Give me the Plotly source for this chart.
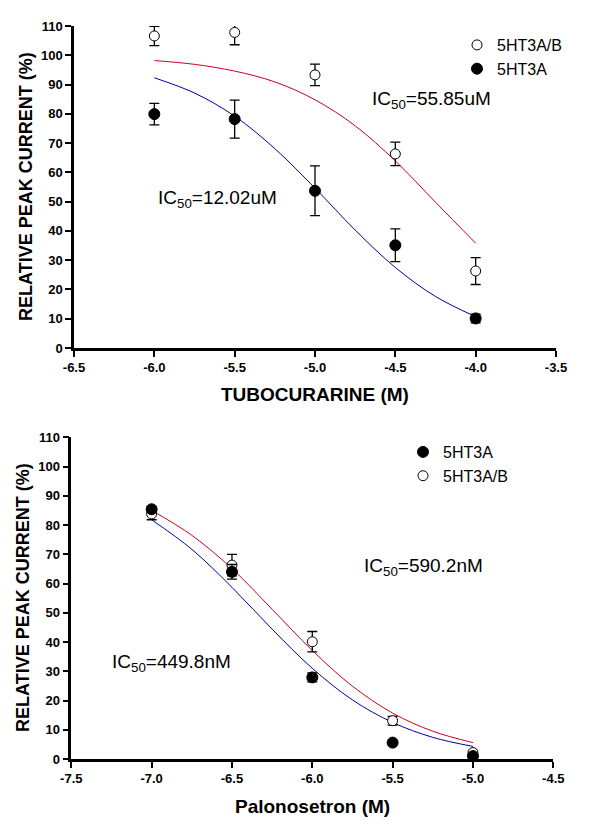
import plotly.graph_objects as go

# ---------------- data ----------------
# Top panel: tubocurarine
tubo_x = [-6.0, -5.5, -5.0, -4.5, -4.0]
tubo_ab = [106.6, 107.8, 93.3, 66.3, 26.3]      # 5HT3A/B (open)
tubo_ab_err = [3.3, 4.2, 3.7, 4.0, 4.6]
tubo_a = [79.9, 78.2, 53.7, 35.1, 10.1]         # 5HT3A (filled)
tubo_a_err = [3.7, 6.5, 8.5, 5.6, 1.5]

tubo_fit_x = [-6.0, -5.75, -5.5, -5.25, -5.0, -4.75, -4.5, -4.25, -4.0]
tubo_fit_ab = [98.2, 96.9, 94.6, 90.9, 84.8, 75.9, 63.9, 49.8, 35.8]   # red
tubo_fit_a = [92.3, 87.1, 79.2, 68.1, 54.6, 40.3, 27.5, 17.6, 10.7]    # blue

# Bottom panel: palonosetron
palo_x = [-7.0, -6.5, -6.0, -5.5, -5.0]
palo_a = [85.4, 64.0, 27.9, 5.6, 1.0]           # 5HT3A (filled)
palo_a_err = [1.0, 2.5, 1.5, 0.0, 0.0]
palo_ab = [83.8, 66.3, 40.1, 13.1, 2.2]         # 5HT3A/B (open)
palo_ab_err = [2.0, 3.7, 3.5, 1.5, 0.5]

palo_fit_x = [-7.0, -6.75, -6.5, -6.25, -6.0, -5.75, -5.5, -5.25, -5.0]
palo_fit_ab = [85.0, 76.5, 65.1, 51.2, 37.1, 24.9, 15.7, 9.5, 5.6]     # red
palo_fit_a = [81.8, 71.7, 58.7, 44.4, 31.0, 20.2, 12.5, 7.4, 4.3]      # blue

top_ticks_x = [-6.5, -6.0, -5.5, -5.0, -4.5, -4.0, -3.5]
bot_ticks_x = [-7.5, -7.0, -6.5, -6.0, -5.5, -5.0, -4.5]
ticks_y = list(range(0, 111, 10))

# ---------------- styles ----------------
FONT = "Arial, Liberation Sans, sans-serif"
RED = "#cc0022"
BLUE = "#0000aa"
OFF = 8                      # page body margin
W, H = 603 - 2 * OFF, 825 - 2 * OFF

fig = go.Figure()

# top curves
fig.add_trace(go.Scatter(x=tubo_fit_x, y=tubo_fit_ab, mode="lines", line=dict(color=RED, width=1, shape="spline"),
                         showlegend=False, xaxis="x", yaxis="y", hoverinfo="skip"))
fig.add_trace(go.Scatter(x=tubo_fit_x, y=tubo_fit_a, mode="lines", line=dict(color=BLUE, width=1, shape="spline"),
                         showlegend=False, xaxis="x", yaxis="y", hoverinfo="skip"))
# top points
fig.add_trace(go.Scatter(x=tubo_x, y=tubo_ab, mode="markers", name="5HT3A/B",
                         marker=dict(symbol="circle", size=10, color="white", line=dict(color="black", width=1)),
                         error_y=dict(type="data", array=tubo_ab_err, color="black", thickness=1.3, width=5),
                         xaxis="x", yaxis="y", legend="legend", cliponaxis=False))
fig.add_trace(go.Scatter(x=tubo_x, y=tubo_a, mode="markers", name="5HT3A",
                         marker=dict(symbol="circle", size=11, color="black", line=dict(color="black", width=1)),
                         error_y=dict(type="data", array=tubo_a_err, color="black", thickness=1.3, width=5),
                         xaxis="x", yaxis="y", legend="legend", cliponaxis=False))

# bottom curves
fig.add_trace(go.Scatter(x=palo_fit_x, y=palo_fit_ab, mode="lines", line=dict(color=RED, width=1, shape="spline"),
                         showlegend=False, xaxis="x2", yaxis="y2", hoverinfo="skip"))
fig.add_trace(go.Scatter(x=palo_fit_x, y=palo_fit_a, mode="lines", line=dict(color=BLUE, width=1, shape="spline"),
                         showlegend=False, xaxis="x2", yaxis="y2", hoverinfo="skip"))
# bottom points
fig.add_trace(go.Scatter(x=palo_x, y=palo_ab, mode="markers", name="5HT3A/B",
                         marker=dict(symbol="circle", size=10, color="white", line=dict(color="black", width=1)),
                         error_y=dict(type="data", array=palo_ab_err, color="black", thickness=1.3, width=5),
                         xaxis="x2", yaxis="y2", legend="legend2", legendrank=2, cliponaxis=False))
fig.add_trace(go.Scatter(x=palo_x, y=palo_a, mode="markers", name="5HT3A",
                         marker=dict(symbol="circle", size=11, color="black", line=dict(color="black", width=1)),
                         error_y=dict(type="data", array=palo_a_err, color="black", thickness=1.3, width=5),
                         xaxis="x2", yaxis="y2", legend="legend2", legendrank=1, cliponaxis=False))

def px_x(p):
    return (p - OFF) / W

def px_y(p):
    return 1 - (p - OFF) / H

axis_common = dict(showgrid=False, zeroline=False, showline=True, linecolor="black", linewidth=2.5,
                   ticks="outside", ticklen=6, tickwidth=2, tickcolor="black", automargin=False,
                   tickfont=dict(family=FONT, size=13, color="black", weight="bold"))

fig.update_layout(
    width=W, height=H,
    margin=dict(l=0, r=0, t=0, b=0, autoexpand=False),
    paper_bgcolor="white", plot_bgcolor="white",
    font=dict(family=FONT, color="black"),
    xaxis=dict(domain=[px_x(74), px_x(556)], range=[-6.5, -3.5], tickvals=top_ticks_x,
               ticktext=[f"{v:.1f}" for v in top_ticks_x], anchor="y", **axis_common),
    yaxis=dict(domain=[px_y(348), px_y(26)], range=[0, 110], tickvals=ticks_y, anchor="x", **axis_common),
    xaxis2=dict(domain=[px_x(71.3), px_x(553.3)], range=[-7.5, -4.5], tickvals=bot_ticks_x,
                ticktext=[f"{v:.1f}" for v in bot_ticks_x], anchor="y2", **axis_common),
    yaxis2=dict(domain=[px_y(759), px_y(437.3)], range=[0, 110], tickvals=ticks_y, anchor="x2", **axis_common),
    legend=dict(x=px_x(457), y=px_y(28), xanchor="left", yanchor="top", bgcolor="rgba(0,0,0,0)",
                font=dict(family=FONT, size=16, color="black"), tracegroupgap=0),
    legend2=dict(x=px_x(403), y=px_y(435), xanchor="left", yanchor="top", bgcolor="rgba(0,0,0,0)",
                 font=dict(family=FONT, size=16, color="black"), traceorder="normal"),
    showlegend=True,
)

ann_font = dict(family=FONT, size=19, color="black")
title_font = dict(family=FONT, size=19, color="black", weight="bold")
ytitle_font = dict(family=FONT, size=18, color="black", weight="bold")
annotations = [
    dict(text="IC<sub>50</sub>=55.85uM", x=-4.655, y=84.8, xref="x", yref="y", xanchor="left", yanchor="middle",
         showarrow=False, font=ann_font),
    dict(text="IC<sub>50</sub>=12.02uM", x=-5.99, y=50.9, xref="x", yref="y", xanchor="left", yanchor="middle",
         showarrow=False, font=ann_font),
    dict(text="IC<sub>50</sub>=590.2nM", x=-5.69, y=65.8, xref="x2", yref="y2", xanchor="left", yanchor="middle",
         showarrow=False, font=ann_font),
    dict(text="IC<sub>50</sub>=449.8nM", x=-7.26, y=32.8, xref="x2", yref="y2", xanchor="left", yanchor="middle",
         showarrow=False, font=ann_font),
    dict(text="TUBOCURARINE (M)", x=px_x(315), y=px_y(395), xref="paper", yref="paper", xanchor="center",
         yanchor="middle", showarrow=False, font=title_font),
    dict(text="RELATIVE PEAK CURRENT (%)", x=px_x(26), y=px_y(187), xref="paper", yref="paper", xanchor="center",
         yanchor="middle", showarrow=False, textangle=-90, font=ytitle_font),
    dict(text="Palonosetron (M)", x=px_x(312), y=px_y(806), xref="paper", yref="paper", xanchor="center",
         yanchor="middle", showarrow=False, font=title_font),
    dict(text="RELATIVE PEAK CURRENT (%)", x=px_x(23), y=px_y(598), xref="paper", yref="paper", xanchor="center",
         yanchor="middle", showarrow=False, textangle=-90, font=ytitle_font),
]
fig.update_layout(annotations=annotations)

fig.write_html("out.html")
